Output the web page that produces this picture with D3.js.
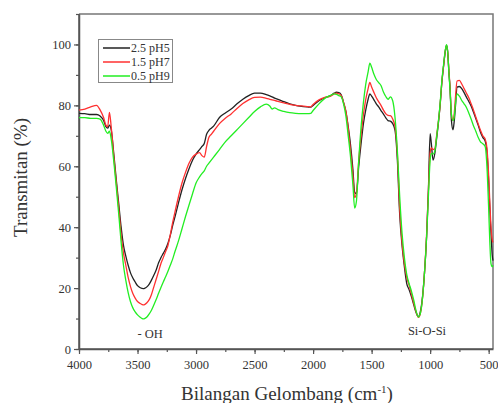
<!DOCTYPE html>
<html>
<head>
<meta charset="utf-8">
<script src="https://cdn.jsdelivr.net/npm/d3@7"></script>
<style>
  html, body { margin: 0; padding: 0; background: #fff; }
  svg { display: block; }
  svg text { font-family: "Liberation Serif", "DejaVu Serif", serif !important; fill: #333; }
</style>
</head>
<body>
<svg id="chart" width="498" height="403"></svg>
<script>
// ---- data ----
const wavenumbers = [4000,3950,3900,3850,3820,3790,3770,3755,3740,3725,3700,3680,3660,3640,3620,3600,3580,3560,3540,3520,3500,3480,3460,3450,3440,3420,3400,3380,3360,3340,3320,3300,3280,3260,3240,3220,3200,3180,3150,3120,3090,3060,3030,3000,2970,2950,2930,2910,2890,2870,2850,2800,2750,2700,2650,2600,2550,2500,2450,2400,2370,2350,2330,2300,2250,2200,2150,2100,2050,2020,2000,1950,1900,1850,1820,1800,1780,1760,1740,1720,1700,1680,1660,1645,1630,1610,1590,1570,1550,1530,1515,1500,1480,1460,1440,1420,1400,1380,1360,1340,1320,1300,1280,1260,1240,1220,1200,1180,1160,1140,1120,1100,1085,1070,1050,1030,1015,1000,990,975,960,945,930,915,900,885,870,860,850,840,830,818,805,795,785,770,750,730,710,690,670,650,630,610,590,570,550,530,515,500,490,480,470,463];

const ph5 = [77.4,77.3,77.0,77.0,76.5,75.0,73.0,72.5,73.5,72.0,63,55,47.5,40,34,30.5,27.5,25,23.3,22,20.8,20.2,19.9,19.8,19.9,20.4,21.3,22.7,24.3,26,28.3,30,31.4,32.8,34.7,37.3,40.5,43.4,48,52.3,56,59.2,62,64,65.5,66.5,67.5,70.5,71.8,72.5,73.2,76,77.5,78.8,80.5,82,83.2,84,84,83.5,83.1,82.8,82.4,82,81.2,80.5,80,79.7,79.5,79.4,80,81.5,82.5,83.2,84,84.3,84.2,83.5,81,78,73,67,59,51.5,51,60,67.5,74,78.5,82,83.8,83,81.8,80.5,79.5,78.3,77.2,76,75,74.8,74,71.8,62,44,34,27,21.5,19.5,17.2,14.5,12,10.6,12,15.5,24,37,52,70.7,67.5,62,64.2,69,74,80,87.5,93,98,99.7,97.5,91,85.5,75,72,74.5,79,86,86.2,85.5,84.2,82.7,81.3,79.8,77.8,75.7,73.5,71.2,69.5,68.3,65,55,46,38,31,29];

const ph7 = [78.4,78.8,79.5,80,78.5,76,73.5,73,77.7,73,62,54,46,37.5,31.5,27.5,23.5,20.5,18.2,16.7,15.6,15,14.6,14.5,14.6,15.2,16.2,18,20.5,23,25.5,28.1,30,32,34,37.5,41.5,45,50,54.5,58,61,63,64,64.5,63.5,63,66.5,69.5,70.5,71.5,74,75.8,77.2,79,80.6,81.8,82.6,82.7,82.3,82,81.8,81.6,81.3,80.8,80.3,80,79.8,79.6,79.5,80.3,81.8,82.6,83,83.8,84,83.8,83.2,81,78,72.5,65,57,49.7,51,62,70,77,82,85.5,87.5,86,84.2,82.5,81.2,80,78.5,77.3,76.7,76.6,75.5,73,64,46,35,28,23.5,21,18,15,12.2,10.4,11.5,15,24,38,52,64.5,66,65.5,65.8,70,74.5,80,87.5,93,98,99.7,97.5,91.5,86,77,75,77,82,88,88.2,87,85.5,84,82.5,80.5,78.5,76.2,74,71.8,70,69,66,57,48,40,36,35];

const ph9 = [76,76,75.7,75.7,75.5,73.5,71.5,70.8,71.5,69,60.5,52.5,44,35,27.5,22.5,18.5,15.5,13.5,12.2,11.2,10.5,10,9.9,10,10.5,11.5,12.8,14.5,16.3,18.3,20.2,22,23.7,25.5,27.5,29.5,32,35.5,39.5,43.5,47.3,51,54.5,56.5,57.6,58.5,60,61,62,63,65.5,68,70,72,74,76,78,79.5,80.4,79.8,78.8,79.2,78.6,78,77.6,77.4,77.3,77.3,77.4,78.3,80.5,82.3,83.3,83.8,83.6,83.2,82.8,80.5,76.5,70,63,54,46.3,48.5,62,73,81,87,91,93.9,92.5,90.2,88.5,87.5,86.5,84.5,83,82,82.8,81.5,76,65,50,38,30,24.5,21.5,19,16,12.5,10.5,11.5,15,24,37,50,62,64.2,64,65,69.5,74.5,80.5,88,93.5,98.2,99.9,97.5,91,85,77,75,76,80,83.8,83,81.6,80.5,79.3,77.5,75.5,73.3,71.5,69.5,68,67.4,66.5,60,46,35,28,27,27.5];

const seriesNames = ["2.5 pH5", "1.5 pH7", "0.5 pH9"];
const seriesColors = ["#222222", "#ff3030", "#22ee22"];
const xTicks = [4000, 3500, 3000, 2500, 2000, 1500, 1000, 500];
const yTicks = [0, 20, 40, 60, 80, 100];
const annotations = [{text: "- OH", wn: 3500, t: 3.5}, {text: "Si-O-Si", wn: 1190, t: 4.5}];

// ---- layout ----
const FONT = "'Liberation Serif', 'DejaVu Serif', serif";
const svg = d3.select("#chart");
const L = 79, R = 493, T = 14, B = 349;
const x = d3.scaleLinear().domain([4000, 463]).range([L, R]);
const y = d3.scaleLinear().domain([0, 110]).range([B, T]);
const axisColor = "#555";

// frame (top and right)
svg.append("path")
  .attr("d", `M${L},${T}H${R}V${B}`)
  .attr("fill", "none").attr("stroke", "#777").attr("stroke-width", 1.5);

// x axis
const xMinor = d3.range(4000, 462, -250);
const gx = svg.append("g").attr("transform", `translate(0,${B})`)
  .call(d3.axisBottom(x).tickValues(xMinor).tickSize(3).tickFormat(""));
const gx2 = svg.append("g").attr("transform", `translate(0,${B})`)
  .call(d3.axisBottom(x).tickValues(xTicks).tickSize(5).tickSizeOuter(0).tickPadding(6).tickFormat(d3.format("d")));
// y axis
const yMinor = d3.range(0, 111, 10);
const gy = svg.append("g").attr("transform", `translate(${L},0)`)
  .call(d3.axisLeft(y).tickValues(yMinor).tickSize(3).tickFormat(""));
const gy2 = svg.append("g").attr("transform", `translate(${L},0)`)
  .call(d3.axisLeft(y).tickValues(yTicks).tickSize(5).tickSizeOuter(0).tickPadding(3).tickFormat(d3.format("d")));
[gx, gx2, gy, gy2].forEach(g => {
  g.attr("font-family", FONT).attr("font-size", 12.5);
  g.select(".domain").attr("stroke", axisColor).attr("stroke-width", 1.5);
  g.selectAll(".tick line").attr("stroke", axisColor).attr("stroke-width", 1.2);
  g.selectAll(".tick text").attr("fill", "#333");
});
gx.select(".domain").attr("d", `M${L},0H${R}`);
gy.select(".domain").attr("d", `M0,${T}V${B}`);

// lines
const allSeries = [ph5, ph7, ph9];
const line = d3.line()
  .x((d, i) => x(wavenumbers[i]))
  .y(d => y(d))
  .curve(d3.curveMonotoneX);
[0, 1, 2].forEach(k => {
  svg.append("path")
    .datum(allSeries[k])
    .attr("fill", "none")
    .attr("stroke", seriesColors[k])
    .attr("stroke-width", 1.3)
    .attr("stroke-linejoin", "round")
    .attr("d", line);
});

// annotations
annotations.forEach(a => {
  svg.append("text")
    .attr("x", x(a.wn)).attr("y", y(a.t))
    .attr("font-family", FONT)
    .attr("font-size", 12.5)
    .text(a.text);
});

// legend
const lg = svg.append("g").attr("font-family", FONT);
lg.append("rect").attr("x", 98.5).attr("y", 39.5).attr("width", 74).attr("height", 43)
  .attr("fill", "#fff").attr("stroke", "#888").attr("stroke-width", 1);
seriesNames.forEach((n, i) => {
  const yy = 48 + i * 14;
  lg.append("line").attr("x1", 103).attr("x2", 130).attr("y1", yy).attr("y2", yy)
    .attr("stroke", seriesColors[i]).attr("stroke-width", 1.5);
  lg.append("text").attr("x", 131).attr("y", yy + 4).attr("font-size", 12).text(n);
});

// axis titles
svg.append("text")
  .attr("transform", `translate(27,${(T + B) / 2 - 4}) rotate(-90)`)
  .attr("text-anchor", "middle")
  .attr("font-family", FONT)
  .attr("font-size", 19)
  .attr("textLength", 119).attr("lengthAdjust", "spacingAndGlyphs")
  .text("Transmitan (%)");

const xt = svg.append("text")
  .attr("x", (L + R) / 2 + 1).attr("y", 400)
  .attr("text-anchor", "middle")
  .attr("font-family", FONT)
  .attr("font-size", 19);
xt.append("tspan").text("Bilangan Gelombang (cm");
xt.append("tspan").attr("font-size", 11).attr("dy", -7).text("-1");
xt.append("tspan").attr("dy", 7).text(")");
</script>
</body>
</html>
